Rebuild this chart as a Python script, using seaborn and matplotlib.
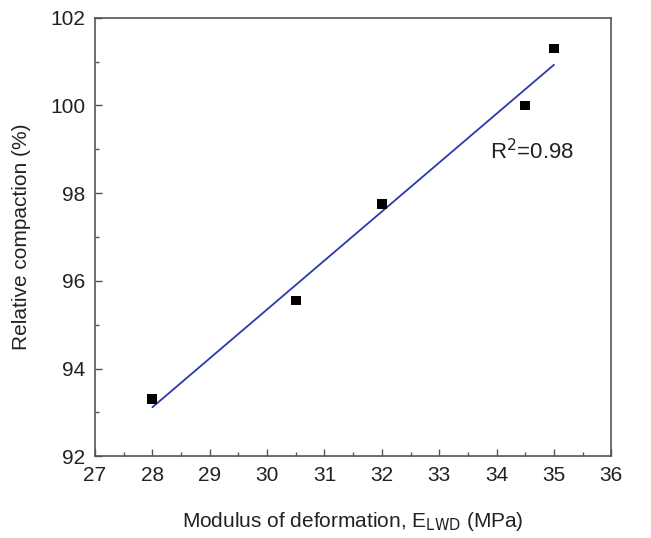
import matplotlib
matplotlib.use("Agg")
import matplotlib.pyplot as plt
import seaborn as sns
import pandas as pd
from matplotlib.ticker import MultipleLocator

modulus = [28.0, 30.5, 32.0, 34.5, 35.0]
compaction = [93.3, 95.55, 97.75, 100.0, 101.3]
r2_label = "R$^2$=0.98"

df = pd.DataFrame({"x": modulus, "y": compaction})

sns.set_style("white")
plt.rcParams['font.family'] = ['Liberation Sans', 'DejaVu Sans']

fig = plt.figure(figsize=(6.51, 5.38), dpi=100)
ax = fig.add_axes([0.146, 0.152, 0.793, 0.815])

sns.regplot(data=df, x="x", y="y", ci=None, ax=ax, marker="s",
            scatter_kws=dict(s=50, color="black", edgecolors="none", alpha=1, zorder=3),
            line_kws=dict(color="#2a3aa8", lw=1.3))

ax.set_xlim(27, 36)
ax.set_ylim(92, 102)
ax.xaxis.set_major_locator(MultipleLocator(1))
ax.xaxis.set_minor_locator(MultipleLocator(0.5))
ax.yaxis.set_major_locator(MultipleLocator(2))
ax.yaxis.set_minor_locator(MultipleLocator(1))
ax.tick_params(which="both", direction="in", bottom=True, left=True, top=False, right=False,
               colors="#555555", labelcolor="#222222", labelsize=15, pad=7)
ax.tick_params(which="major", length=5, width=1)
ax.tick_params(which="minor", length=3, width=1)
for s in ax.spines.values():
    s.set_color("#555555")
    s.set_linewidth(1.2)

ax.set_xlabel("Modulus of deformation, E$_{\\rm LWD}$ (MPa)", fontsize=15, color="#222222", labelpad=18)
ax.set_ylabel("Relative compaction (%)", fontsize=15, color="#222222", labelpad=14)
ax.text(33.88, 98.95, r2_label, fontsize=16, color="#222222", va="center", ha="left")

fig.savefig("out.png", dpi=100)
